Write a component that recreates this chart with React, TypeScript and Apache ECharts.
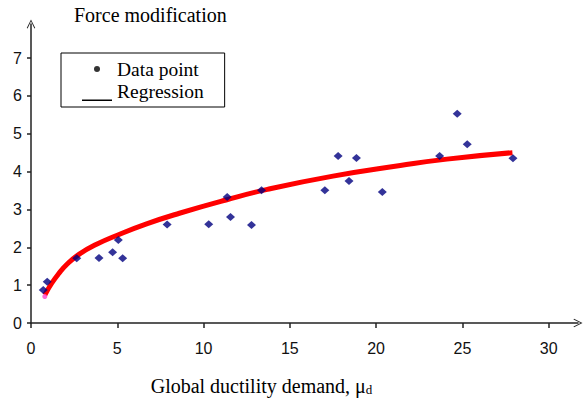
import React, { useEffect, useRef } from "react";
import * as echarts from "echarts";

// Observed data points (global ductility demand, force modification)
const dataX = [0.71, 0.94, 2.65, 3.94, 4.73, 5.06, 5.31, 7.89, 10.3, 11.37, 11.56, 12.78, 13.36, 17.03, 17.8, 18.43, 18.86, 20.36, 23.68, 24.7, 25.28, 27.93];
const dataY = [0.87, 1.09, 1.71, 1.72, 1.87, 2.19, 1.71, 2.6, 2.61, 3.33, 2.8, 2.59, 3.51, 3.51, 4.41, 3.75, 4.36, 3.46, 4.41, 5.53, 4.72, 4.35];

// Regression curve
const regX = [0.8, 1.2, 1.6, 2.1, 2.8, 3.8, 5, 6.7, 8.6, 11.3, 13.7, 17.5, 21.4, 24.1, 27.9];
const regY = [0.74, 1.05, 1.3, 1.56, 1.82, 2.08, 2.32, 2.62, 2.9, 3.25, 3.53, 3.88, 4.16, 4.33, 4.5];

const xTicks = [0, 5, 10, 15, 20, 25, 30];
const yTicks = [0, 1, 2, 3, 4, 5, 6, 7];

const SERIF = "'Liberation Serif', 'Times New Roman', serif";
const SANS = "'Liberation Sans', Arial, sans-serif";

const chevron = "path://M0,10L5,0L10,10L9,10.6L5,2.2L1,10.6Z";
const dotIcon = "path://M0,0M30,20M12,10A3,3,0,1,0,18,10A3,3,0,1,0,12,10Z";
const lineIcon = "path://M0,0M0,18.5L30,18.5L30,20L0,20Z";

export default function App() {
  const ref = useRef<HTMLDivElement>(null);
  useEffect(() => {
    if (!ref.current) return;
    const chart = echarts.init(ref.current, null, { renderer: "svg" });
    const axisLineStyle = { color: "#222", width: 1.5 };
    chart.setOption({
      animation: false,
      backgroundColor: "#fff",
      title: {
        text: "Force modification",
        left: 74,
        top: 5,
        padding: 0,
        textStyle: { fontFamily: SERIF, fontSize: 20, fontWeight: "normal", color: "#000" },
      },
      legend: {
        orient: "vertical",
        left: 61,
        top: 53,
        padding: [6, 21, 6, 21],
        borderColor: "#000",
        borderWidth: 1,
        backgroundColor: "#fff",
        itemWidth: 30,
        itemHeight: 20,
        itemGap: 2,
        textStyle: { fontFamily: SERIF, fontSize: 19.5, color: "#000" },
        selectedMode: false,
        data: [
          { name: "Data point", icon: dotIcon, itemStyle: { color: "#000", borderWidth: 0 } },
          { name: "Regression", icon: lineIcon, itemStyle: { color: "#000", borderWidth: 0 } },
        ],
      },
      grid: { left: 31, right: 6, top: 24, bottom: 79, containLabel: false },
      xAxis: {
        type: "value",
        min: 0,
        max: 31.7,
        splitLine: { show: false },
        axisLine: {
          show: true,
          lineStyle: axisLineStyle,
          symbol: ["none", chevron],
          symbolSize: [9, 9],
        },
        axisTick: {
          show: true,
          length: 5,
          lineStyle: axisLineStyle,
          customValues: xTicks,
        },
        axisLabel: {
          customValues: xTicks,
          margin: 17,
          fontFamily: SANS,
          fontSize: 16,
          color: "#111",
        },
        name: "Global ductility demand, μ{d|d}",
        nameLocation: "middle",
        nameGap: 53,
        nameTextStyle: {
          fontFamily: SERIF,
          fontSize: 20,
          color: "#000",
          padding: [0, 86, 0, 0],
          rich: {
            d: { fontFamily: SERIF, fontSize: 13, color: "#000", verticalAlign: "bottom", padding: [6, 0, 0, 0] },
          },
        },
      },
      yAxis: {
        type: "value",
        min: 0,
        max: 7.9,
        splitLine: { show: false },
        axisLine: {
          show: true,
          lineStyle: axisLineStyle,
          symbol: ["none", chevron],
          symbolSize: [9, 9],
        },
        axisTick: {
          show: true,
          length: 4,
          lineStyle: axisLineStyle,
          customValues: yTicks,
        },
        axisLabel: {
          customValues: yTicks,
          margin: 9,
          fontFamily: SANS,
          fontSize: 16,
          color: "#111",
        },
      },
      series: [
        {
          name: "Regression",
          type: "line",
          smooth: 0.5,
          showSymbol: false,
          data: regX.map((x, i) => [x, regY[i]]),
          lineStyle: { color: "#ff0000", width: 5 },
          itemStyle: { color: "#ff0000" },
          z: 2,
        },
        {
          name: "Regression start",
          type: "scatter",
          symbol: "circle",
          symbolSize: 5,
          data: [[regX[0], regY[0] - 0.04]],
          itemStyle: { color: "#ff44cc" },
          z: 3,
        },
        {
          name: "Data point",
          type: "scatter",
          symbol: "diamond",
          symbolSize: [9, 8],
          data: dataX.map((x, i) => [x, dataY[i]]),
          itemStyle: { color: "#000080" },
          z: 4,
        },
      ],
    });
    return () => chart.dispose();
  }, []);
  return <div ref={ref} style={{ width: 584, height: 402, position: "absolute", left: 0, top: 0 }} />;
}
